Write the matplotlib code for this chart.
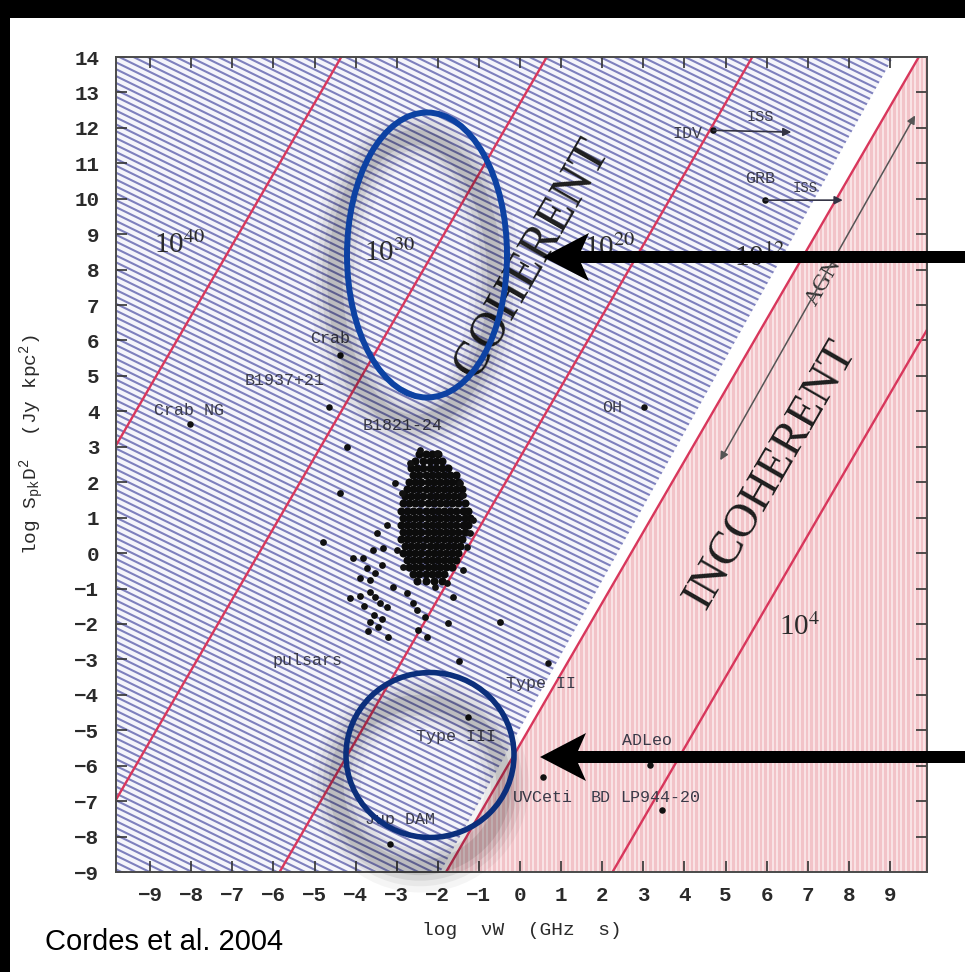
import matplotlib

matplotlib.use("Agg")
import matplotlib.pyplot as plt
import numpy as np
from matplotlib.collections import LineCollection
from matplotlib.patches import Ellipse, Polygon, Rectangle

W, H = 965, 972

# axes ranges / ticks
x_range = (-9.83, 9.9)
y_range = (-9.0, 14.0)
x_ticks = list(range(-9, 10))
y_ticks = list(range(-9, 15))

# lines of constant brightness temperature: log S D^2 = 2 log(nu W) + c
tb_slope = 2.0
tb_intercepts = [22.7, 12.7, 2.7, -5.4, -13.5]
incoherent_limit = -5.4
# right-hand edge of the hatched coherent zone
coherent_edge_x = [-1.94, 9.08]
coherent_edge_y = [-9.0, 14.0]

tb_labels = ["10$^{40}$", "10$^{30}$", "10$^{20}$", "10$^{12}$", "10$^{4}$"]
tb_label_x = [-8.27, -3.16, 2.19, 5.84, 6.81]
tb_label_y = [8.69, 8.46, 8.60, 8.32, -2.09]

# pulsar population: dense core, row by row
core_row_y = [2.8, 2.6, 2.4, 2.2, 2.0, 1.8, 1.6, 1.4, 1.2, 1.0,
              0.8, 0.6, 0.4, 0.2, 0.0, -0.2, -0.4, -0.6, -0.8]
core_row_x = [
    [-2.45, -2.3, -2.15, -2.0],
    [-2.55, -2.37, -2.2, -2.05, -1.9],
    [-2.65, -2.5, -2.35, -2.2, -2.05, -1.9, -1.75],
    [-2.6, -2.45, -2.3, -2.15, -2.0, -1.85, -1.7, -1.55],
    [-2.7, -2.55, -2.4, -2.25, -2.1, -1.95, -1.8, -1.65, -1.5],
    [-2.75, -2.6, -2.45, -2.3, -2.15, -2.0, -1.85, -1.7, -1.55, -1.42],
    [-2.8, -2.65, -2.5, -2.35, -2.2, -2.05, -1.9, -1.75, -1.6, -1.45],
    [-2.85, -2.7, -2.55, -2.4, -2.25, -2.1, -1.95, -1.8, -1.65, -1.5, -1.35],
    [-2.9, -2.75, -2.6, -2.45, -2.3, -2.15, -2.0, -1.85, -1.7, -1.55, -1.4, -1.27],
    [-2.85, -2.7, -2.55, -2.4, -2.25, -2.1, -1.95, -1.8, -1.65, -1.5, -1.35, -1.22],
    [-2.9, -2.75, -2.6, -2.45, -2.3, -2.15, -2.0, -1.85, -1.7, -1.55, -1.4, -1.27],
    [-2.85, -2.7, -2.55, -2.4, -2.25, -2.1, -1.95, -1.8, -1.65, -1.5, -1.35],
    [-2.9, -2.75, -2.6, -2.45, -2.3, -2.15, -2.0, -1.85, -1.7, -1.55, -1.42],
    [-2.8, -2.65, -2.5, -2.35, -2.2, -2.05, -1.9, -1.75, -1.6, -1.45],
    [-2.85, -2.7, -2.55, -2.4, -2.25, -2.1, -1.95, -1.8, -1.65, -1.5],
    [-2.75, -2.6, -2.45, -2.3, -2.15, -2.0, -1.85, -1.7, -1.55],
    [-2.7, -2.55, -2.4, -2.25, -2.1, -1.95, -1.8, -1.65],
    [-2.6, -2.45, -2.3, -2.15, -2.0, -1.85],
    [-2.5, -2.3, -2.1, -1.9],
]
# pulsars scattered around the core
pulsar_x = [-2.43, -2.02, -4.21, -4.38, -4.79, -4.06, -3.82, -3.24, -3.48, -3.58,
            -3.33, -2.99, -3.04, -2.87, -3.89, -3.65, -4.14, -3.65, -3.53, -3.41,
            -3.24, -3.65, -3.45, -3.21, -2.85, -3.09, -2.75, -2.60, -2.51, -2.31,
            -2.48, -1.75, -2.07, -1.78, -1.39, -1.63, -0.49, -3.53, -3.36, -3.72,
            -2.26, -2.68, -1.46, -1.39, -1.14, -1.22, -1.29, -3.80, -3.55, -3.35,
            -3.70, -3.90, -1.48]
pulsar_y = [2.90, 2.82, 2.99, 1.69, 0.31, -0.14, -0.14, 0.79, 0.56, 0.08,
            0.14, 0.08, 1.97, 1.69, -0.71, -0.76, -1.27, -1.10, -1.24, -1.41,
            -1.52, -1.95, -2.09, -2.37, -0.40, -0.96, -1.13, -1.41, -1.61, -1.81,
            -2.17, -1.98, -0.96, -0.85, -0.48, -1.24, -1.95, -0.57, -0.34, -0.42,
            -2.37, 2.54, 1.97, 1.63, 0.93, 0.56, 0.17, -1.50, -1.75, -1.85,
            -2.20, -1.20, -3.05]

# individually marked sources
source_x = [-8.03, -4.38, -4.65, 3.02, 4.70, 5.96, 0.68, -1.27, 0.56, 3.16, 3.45, -3.17]
source_y = [3.64, 5.60, 4.12, 4.12, 11.93, 9.96, -3.10, -4.63, -6.32, -5.98, -7.25, -8.20]

label_text = ["Crab NG", "Crab", "B1937+21", "B1821-24", "OH", "IDV", "GRB",
              "pulsars", "Type II", "Type III", "ADLeo", "UVCeti", "BD",
              "LP944-20", "Jup DAM"]
label_x = [-8.05, -4.62, -5.72, -2.85, 2.24, 4.06, 5.84,
           -5.18, 0.51, -1.56, 3.10, 0.56, 1.97, 3.40, -2.92]
label_y = [4.03, 6.06, 4.88, 3.60, 4.12, 11.85, 10.58,
           -3.02, -3.67, -5.19, -5.28, -6.91, -6.91, -6.91, -7.53]
iss_x = [5.84, 6.93]
iss_y = [12.30, 10.30]

# scintillation / AGN range arrows (start, end)
idv_arrow = ((4.70, 11.93), (6.60, 11.88))
grb_arrow = ((5.96, 9.96), (7.85, 9.96))
agn_arrow = ((4.87, 2.62), (9.61, 12.35))

plt.rcParams["font.family"] = ["Liberation Mono", "DejaVu Sans Mono"]
plt.rcParams["mathtext.fontset"] = "custom"
plt.rcParams["mathtext.rm"] = "Liberation Mono"
plt.rcParams["mathtext.it"] = "Liberation Mono"

fig = plt.figure(figsize=(W / 100, H / 100), dpi=100)
fig.patch.set_facecolor("white")
ax = fig.add_axes([116 / W, 1 - 872 / H, (927 - 116) / W, (872 - 57) / H])
ax.set_xlim(*x_range)
ax.set_ylim(*y_range)

px_per_x = (927 - 116) / (x_range[1] - x_range[0])
px_per_y = (872 - 57) / (y_range[1] - y_range[0])
xs = np.array(x_range)

# hatched coherent region
blue_poly = Polygon([(x_range[0], y_range[0]), (coherent_edge_x[0], coherent_edge_y[0]),
                     (coherent_edge_x[1], coherent_edge_y[1]), (x_range[0], y_range[1])],
                    closed=True, fc="#f5f5fb", ec="none", zorder=0)
ax.add_patch(blue_poly)
hatch_slope = -np.tan(np.radians(26)) * px_per_x / px_per_y
hatch_step = 6.2 / np.cos(np.radians(26)) / px_per_y
offsets = np.arange(-25, 25, hatch_step)
segs = [np.column_stack([xs, c + hatch_slope * xs]) for c in offsets]
lc = LineCollection(segs, colors="#7e80bd", linewidths=1.5, zorder=1)
lc.set_clip_path(blue_poly)
ax.add_collection(lc)

# pink incoherent region with vertical striping
x_top = (y_range[1] - incoherent_limit) / tb_slope
x_bot = (y_range[0] - incoherent_limit) / tb_slope
pink_poly = Polygon([(x_bot, y_range[0]), (x_range[1], y_range[0]),
                     (x_range[1], y_range[1]), (x_top, y_range[1])],
                    closed=True, fc="#f2c3c8", ec="none", zorder=0)
ax.add_patch(pink_poly)
stripe_step = 4.6 / px_per_x
vsegs = [[(x, y_range[0]), (x, y_range[1])] for x in np.arange(x_bot, x_range[1], stripe_step)]
vlc = LineCollection(vsegs, colors="white", linewidths=1.1, alpha=0.7, zorder=1)
vlc.set_clip_path(pink_poly)
ax.add_collection(vlc)

for c in tb_intercepts:
    ax.plot(xs, tb_slope * xs + c, color="#d8375c", lw=1.7, zorder=2)

for t, x, y in zip(tb_labels, tb_label_x, tb_label_y):
    ax.text(x, y, t, fontsize=21, color="#2a2a2a", ha="center", va="center",
            family="Liberation Serif", math_fontfamily="stix", zorder=4)

ax.text(0.29, 8.32, "COHERENT", rotation=60, rotation_mode="anchor", ha="center", va="center",
        fontsize=36, family="Liberation Serif", color="#1e1e1e", zorder=4)
ax.text(6.1, 2.2, "INCOHERENT", rotation=60, rotation_mode="anchor", ha="center", va="center",
        fontsize=34, family="Liberation Serif", color="#1e1e1e", zorder=4)
ax.text(7.45, 7.75, "AGNs", rotation=60, rotation_mode="anchor", ha="center", va="center",
        fontsize=17, family="Liberation Serif", color="#333333", zorder=4)

# pulsars
core_x = [x for row in core_row_x for x in row]
core_y = [y for y, row in zip(core_row_y, core_row_x) for _ in row]
ax.scatter(core_x, core_y, s=34, color="#0c0c0c", lw=0, zorder=3)
ax.scatter(pulsar_x, pulsar_y, s=24, color="#111111", lw=0, zorder=3)
ax.scatter(source_x, source_y, s=22, color="#111111", lw=0, zorder=3)

for t, x, y in zip(label_text, label_x, label_y):
    ax.text(x, y, t, fontsize=12, color="#3a3a48", ha="center", va="center", zorder=4)
for x, y, fs in zip(iss_x, iss_y, [11, 10]):
    ax.text(x, y, "ISS", fontsize=fs, color="#3a3a48", ha="center", va="center", zorder=4)

for (x0, y0), (x1, y1) in [idv_arrow, grb_arrow]:
    ax.annotate("", xy=(x1, y1), xytext=(x0, y0),
                arrowprops=dict(arrowstyle="-|>", color="#333344", lw=1.2,
                                mutation_scale=12, shrinkA=0, shrinkB=0), zorder=4)
ax.annotate("", xy=agn_arrow[1], xytext=agn_arrow[0],
            arrowprops=dict(arrowstyle="<|-|>", color="#555555", lw=1.1,
                            mutation_scale=12, shrinkA=0, shrinkB=0), zorder=4)

ax.set_xticks(x_ticks)
ax.set_yticks(y_ticks)
ax.tick_params(direction="in", length=8, width=1.2, top=True, right=True,
               labelsize=15, colors="#333333", labelcolor="#2a2a2a")
ax.tick_params(axis="x", pad=10)
ax.tick_params(axis="y", pad=12)
for lab in ax.get_xticklabels() + ax.get_yticklabels():
    lab.set_fontweight("bold")
for sp in ax.spines.values():
    sp.set_color("#4a4a4a")
    sp.set_linewidth(1.4)

fig.text(522 / W, 1 - 930 / H, "log  \u03bdW  (GHz  s)", fontsize=14, ha="center",
         va="center", color="#2a2a2a")
fig.text(32 / W, 1 - 445 / H, "log S$_{pk}$D$^2$  (Jy kpc$^2$)", fontsize=14, rotation=90,
         ha="center", va="center", color="#2a2a2a")
fig.text(45 / W, 1 - 942 / H, "Cordes et al. 2004", fontsize=21, family="Liberation Sans",
         ha="left", va="center", color="black")


def fpt(px, py):
    return (px / W, 1 - py / H)


# soft drop shadows under the highlight rings
def shadow_ring(cx, cy, w, h):
    for lw, a in [(36, 0.04), (27, 0.05), (19, 0.07), (11, 0.09)]:
        fig.add_artist(Ellipse(fpt(cx, cy), w / W, h / H, transform=fig.transFigure,
                               fill=False, lw=lw, ec="black", alpha=a, zorder=5))


shadow_ring(415, 280, 160, 285)
shadow_ring(420, 785, 168, 165)

fig.add_artist(Ellipse(fpt(427, 255), 160 / W, 285 / H, transform=fig.transFigure,
                       fill=False, lw=4.3, ec="#0d42a3", zorder=6))
fig.add_artist(Ellipse(fpt(430, 755), 168 / W, 165 / H, transform=fig.transFigure,
                       fill=False, lw=4.0, ec="#0b2f7c", zorder=6))


def big_arrow(x_tip, y, x_tail=W, shaft=12, head_len=46, head_w=48, notch=8):
    pts = [(x_tip, y), (x_tip + head_len, y - head_w / 2),
           (x_tip + head_len - notch, y - shaft / 2), (x_tail, y - shaft / 2),
           (x_tail, y + shaft / 2), (x_tip + head_len - notch, y + shaft / 2),
           (x_tip + head_len, y + head_w / 2)]
    fig.add_artist(Polygon([fpt(px, py) for px, py in pts], closed=True, fc="black",
                           ec="none", transform=fig.transFigure, zorder=7))


big_arrow(543, 257)
big_arrow(540, 757)

# black frame strips along the top and left edges
fig.add_artist(Rectangle((0, 1 - 18 / H), 1, 18 / H, transform=fig.transFigure,
                         fc="black", ec="none", zorder=8))
fig.add_artist(Rectangle((0, 0), 10 / W, 1, transform=fig.transFigure,
                         fc="black", ec="none", zorder=8))

fig.savefig("out.png", dpi=100, facecolor="white")
